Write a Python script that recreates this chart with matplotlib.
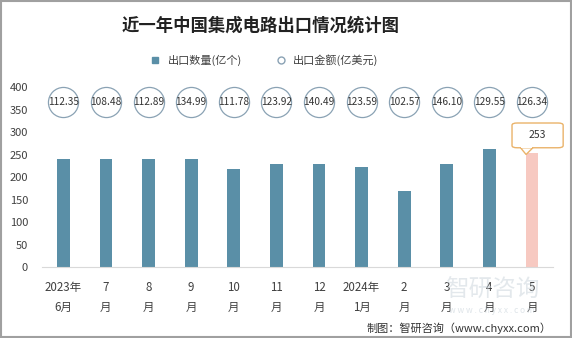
import matplotlib
matplotlib.use("Agg")
import matplotlib.pyplot as plt
from matplotlib.patches import FancyBboxPatch, Polygon, Rectangle
from matplotlib.lines import Line2D

plt.rcParams['font.family'] = ['Noto Sans CJK SC', 'DejaVu Sans']

# Data
months = ["2023年\n6月", "7\n月", "8\n月", "9\n月", "10\n月", "11\n月",
          "12\n月", "2024年\n1月", "2\n月", "3\n月", "4\n月", "5\n月"]
quantity = [239, 239, 239, 241, 218, 229, 230, 222, 170, 228, 262, 253]
amount = [112.35, 108.48, 112.89, 134.99, 111.78, 123.92,
          140.49, 123.59, 102.57, 146.10, 129.55, 126.34]

bar_color = "#5a8fa7"
last_color = "#f7c9c1"
circle_edge = "#8aa2b4"

fig = plt.figure(figsize=(5.72, 3.38), dpi=100)
ax = fig.add_axes([0.0734, 0.21, 0.894, 0.5326])

x = list(range(len(months)))
colors = [bar_color] * (len(months) - 1) + [last_color]
ax.bar(x, quantity, width=0.3, color=colors, zorder=2)

# amount shown as circled labels along the top
circle_y = 367
ax.scatter(x, [circle_y] * len(x), s=470, facecolor="white",
           edgecolor=circle_edge, linewidth=0.9, zorder=3, clip_on=False)
for xi, v in zip(x, amount):
    ax.text(xi, circle_y, f"{v:.2f}", ha="center", va="center",
            fontsize=7.3, color="#333333", zorder=4)

# callout for the last bar
lx, lv = x[-1], quantity[-1]
bx0, bx1 = lx - 0.47, lx + 0.73
by0, by1 = lv + 12, lv + 67
box = FancyBboxPatch((bx0, by0), bx1 - bx0, by1 - by0,
                     boxstyle="round,pad=0,rounding_size=0.12",
                     mutation_aspect=40, facecolor="white",
                     edgecolor="#eab36a", linewidth=1.0, zorder=5, clip_on=False)
ax.add_patch(box)
tri = Polygon([(lx - 0.27, by0), (lx + 0.02, by0), (lx - 0.14, lv - 3)],
              closed=True, facecolor="white", edgecolor="#eab36a",
              linewidth=1.0, zorder=5)
ax.add_patch(tri)
ax.add_patch(Rectangle((lx - 0.26, by0 - 1.5), 0.27, 3.5, facecolor="white",
                       edgecolor="none", zorder=6))
ax.text((bx0 + bx1) / 2, (by0 + by1) / 2, str(lv), ha="center", va="center",
        fontsize=7.5, color="#333333", zorder=7)

ax.set_xlim(-0.5, len(months) - 0.5)
ax.set_ylim(0, 400)
ax.set_yticks(range(0, 401, 50))
ax.set_xticks(x)
ax.set_xticklabels(months, fontsize=8.3, color="#404040", linespacing=1.7)
ax.tick_params(axis="y", labelsize=8, colors="#404040", length=0, pad=10)
ax.tick_params(axis="x", length=0, pad=10)
for s in ["top", "right", "left"]:
    ax.spines[s].set_visible(False)
ax.spines["bottom"].set_color("#d9d9d9")

# title and legend
fig.text(0.455, 0.925, "近一年中国集成电路出口情况统计图", ha="center", va="center",
         fontsize=12.5, fontweight="bold", color="#222222")
handles = [
    Line2D([], [], marker="s", linestyle="none", markersize=5,
           markerfacecolor=bar_color, markeredgecolor=bar_color),
    Line2D([], [], marker="o", linestyle="none", markersize=5,
           markerfacecolor="white", markeredgecolor=circle_edge),
]
fig.legend(handles, ["出口数量(亿个)", "出口金额(亿美元)"], loc="center",
           bbox_to_anchor=(0.457, 0.823), ncol=2, frameon=False, fontsize=8,
           handletextpad=0.1, columnspacing=2.5, labelcolor="#404040")

# watermark and source
fig.text(0.86, 0.14, "智研咨询", ha="center", va="center", fontsize=17,
         color="#c9d3da", alpha=0.5, zorder=0)
fig.text(0.86, 0.082, "w w w . c h y x x . c o m", ha="center", va="center",
         fontsize=6, color="#c9d3da", alpha=0.6)
fig.text(0.965, 0.03, "制图：智研咨询（www.chyxx.com）", ha="right", va="center",
         fontsize=8, color="#333333")

# gray frame
fig.patches.append(Rectangle((0.002, 0.003), 0.996, 0.994, transform=fig.transFigure,
                             fill=False, edgecolor="#a0a0a0", linewidth=1.5))

fig.savefig("out.png", dpi=100)
